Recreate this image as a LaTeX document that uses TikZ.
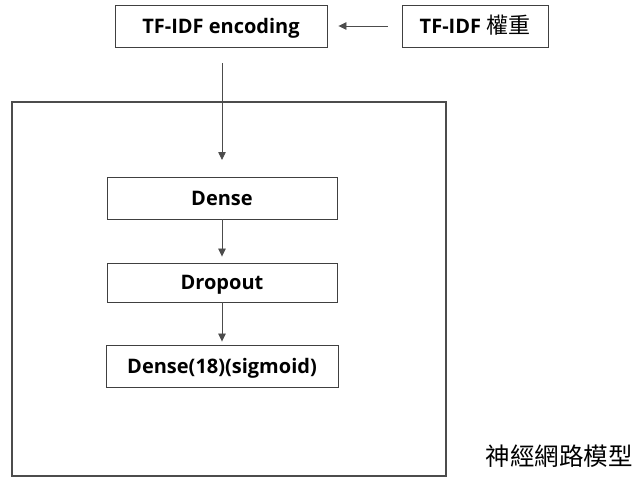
\documentclass[tikz,border=0pt]{standalone}
\usepackage{fontspec}
\setmainfont{Open Sans}
\newfontfamily\cjkfont{Noto Sans CJK TC}
\usetikzlibrary{arrows.meta}
\tikzset{
  layerbox/.style={draw=black!75, line width=0.9pt, fill=white, inner sep=0pt,
    text height=14.5pt, text depth=0pt,
    font=\fontsize{20}{24}\selectfont\bfseries},
  flow/.style={draw=black!70, line width=0.8pt, -{Triangle[length=8pt,width=7.5pt]}},
}
\begin{document}
\begin{tikzpicture}[x=1pt,y=-1pt]
  \useasboundingbox (0,0) rectangle (641,477);
  % outer frame of the network
  \draw[draw=black!70, line width=1.1pt] (12,102) rectangle (446,476);
  % input side
  \node[layerbox, minimum width=212pt, minimum height=42pt] (enc) at (221,26) {TF-IDF encoding};
  \node[layerbox, minimum width=146pt, minimum height=42pt] (wt) at (475,26) {TF-IDF {\cjkfont\mdseries\fontsize{22}{24}\selectfont 權重}};
  % layers
  \node[layerbox, minimum width=230pt, minimum height=42pt] (dense) at (222,198) {Dense};
  \node[layerbox, minimum width=230pt, minimum height=39pt] (drop) at (222,282.5) {Dropout};
  \node[layerbox, minimum width=232pt, minimum height=42pt] (out) at (222,366) {Dense(18)(sigmoid)};
  % connectors
  \draw[flow, shorten <=14pt, shorten >=11pt] (wt.west) -- (enc.east);
  \coordinate (inTop) at (222,63);
  \coordinate (inEnd) at (222,160);
  \draw[flow] (inTop) -- (inEnd);
  \draw[flow, shorten >=6pt] (dense.south) -- (drop.north);
  \draw[flow, shorten >=3pt] (drop.south) -- (out.north);
  % caption
  \node[font=\cjkfont\fontsize{24.5}{26}\selectfont, anchor=center] (cap) at (559,456) {神經網路模型};
\end{tikzpicture}
\end{document}
